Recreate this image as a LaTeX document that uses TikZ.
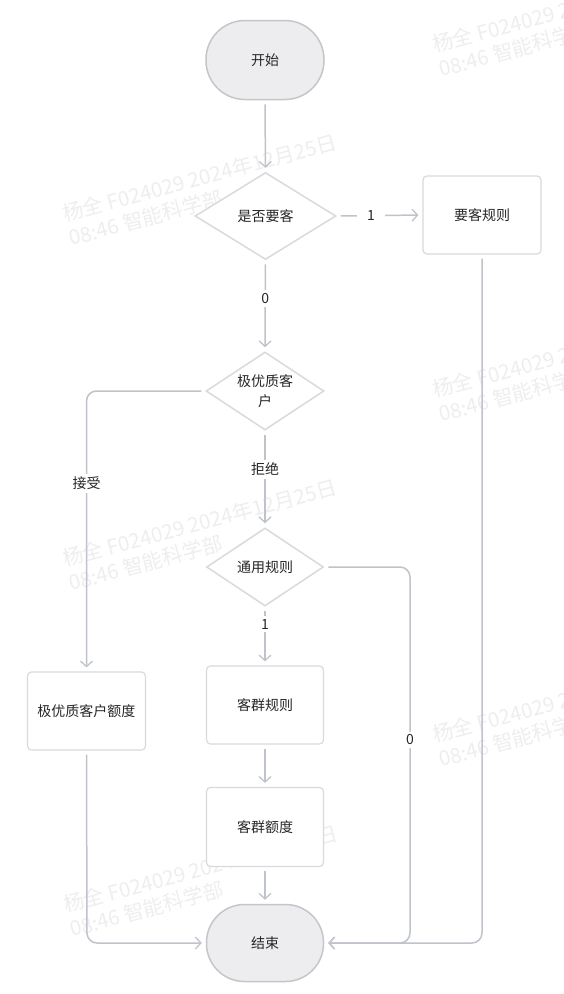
\documentclass[tikz,border=0pt]{standalone}
\usepackage{fontspec}
\setmainfont{Noto Sans CJK SC}
\usetikzlibrary{shapes.geometric,arrows.meta}
\definecolor{edgec}{HTML}{BFC3CA}
\definecolor{termfill}{HTML}{EDEDEF}
\definecolor{termdraw}{HTML}{C4C6CA}
\definecolor{boxdraw}{HTML}{D9DADD}
\definecolor{txt}{HTML}{262626}
\definecolor{wmc}{HTML}{EEEEEE}
\begin{document}
\begin{tikzpicture}[x=1pt,y=-1pt,
  lbl/.style={font=\fontsize{14}{18}\selectfont, text=txt},
  term/.style={lbl, draw=termdraw, fill=termfill, line width=1.5pt, minimum width=118pt, minimum height=79pt, rounded corners=39pt, inner sep=0pt},
  proc/.style={lbl, draw=boxdraw, fill=white, line width=1.2pt, minimum width=118pt, minimum height=78pt, rounded corners=4pt, inner sep=0pt},
  decide/.style={lbl, diamond, aspect=1.53, draw=boxdraw, fill=white, line width=1.5pt, minimum width=118pt, minimum height=78pt, inner sep=0pt, align=center},
  edge/.style={draw=edgec, line width=1.5pt, -{Straight Barb[length=5.5pt,width=12pt,line width=1.3pt]}, shorten >=4pt, shorten <=4pt},
  elbl/.style={lbl, fill=white, inner sep=3pt},
  wm/.style={font=\fontsize{20.5}{20.5}\selectfont, text=wmc, rotate=15, anchor=base west, inner sep=0pt}]
\useasboundingbox (0,0) rectangle (564,994);
\fill[white] (0,0) rectangle (564,994);
\begin{scope}
\clip (0,0) rectangle (564,994);
\foreach \x/\y in {65/222, 65/567, 66/913, 435/53, 435/398, 435/743} {
  \node[wm] (w1) at (\x,\y) {杨全 F024029 2024年12月25日};
  \node[wm] (w2) at (\x+6,\y+24) {08:46 智能科学部};
}
\end{scope}

\node[term] (start) at (265,60) {开始};
\node[decide, minimum width=141pt, minimum height=87pt] (q1) at (265.5,216) {是否要客};
\node[proc] (yk) at (482,215) {要客规则};
\node[decide, font=\fontsize{14}{20}\selectfont] (q2) at (265,391) {极优质客\\户};
\node[decide, minimum width=117pt] (q3) at (265,567) {通用规则};
\node[proc] (jy) at (86.5,711) {极优质客户额度};
\node[proc, minimum width=117pt] (kq) at (265,705) {客群规则};
\node[proc, minimum width=117pt, minimum height=79pt] (ke) at (265,827) {客群额度};
\node[term, minimum width=117pt, minimum height=77pt, rounded corners=38pt] (end) at (265,943) {结束};

\coordinate (l1) at (87,943);
\coordinate (r0) at (410,943);
\coordinate (r1) at (482,943);

\draw[edge] (start) -- (q1);
\draw[edge] (q1.east) -- node[elbl, inner xsep=10pt, pos=0.4] {1} (yk.west);
\draw[edge] (q1.south) -- node[elbl, pos=0.42] {0} (q2.north);
\draw[edge, rounded corners=10pt] (q2.west) -| node[elbl, pos=0.665] {接受} (jy.north);
\draw[edge] (q2.south) -- node[elbl, pos=0.4] {拒绝} (q3.north);
\draw[edge] (q3.south) -- node[elbl, pos=0.3] {1} (kq.north);
\draw[edge] (kq) -- (ke);
\draw[edge] (ke) -- (end);
\draw[edge, rounded corners=10pt] (q3.east) -| node[elbl, pos=0.73] {0} (r0) -- (end.east);
\draw[edge, rounded corners=10pt] (yk.south) -- (r1) -- (end.east);
\draw[edge, rounded corners=10pt] (jy.south) -- (l1) -- (end.west);
\end{tikzpicture}
\end{document}
